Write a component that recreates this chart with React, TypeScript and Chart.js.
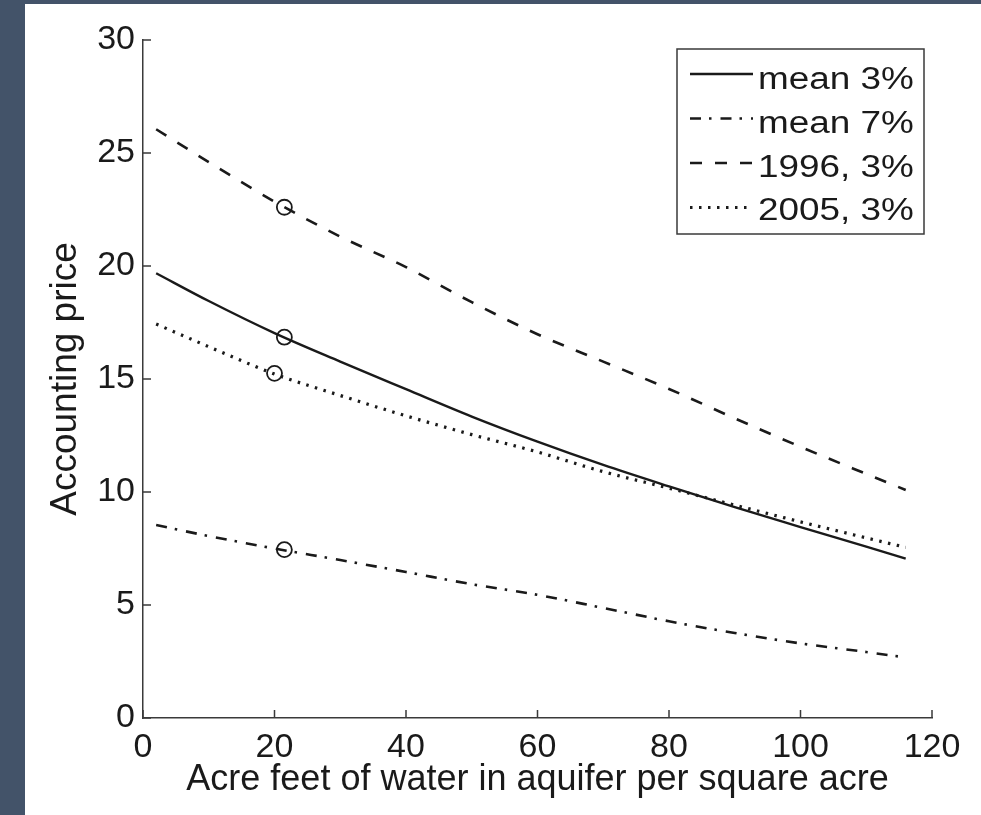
import React, { useEffect, useRef } from 'react';
import { Chart, registerables } from 'chart.js';

Chart.register(...registerables);

// ---- data ----
const xValues = [2, 10, 20, 30, 40, 50, 60, 70, 80, 90, 100, 110, 116];
const mean3 = [19.68, 18.45, 17.03, 15.77, 14.55, 13.34, 12.23, 11.2, 10.25, 9.33, 8.45, 7.58, 7.05];
const mean7 = [8.54, 8.05, 7.5, 6.99, 6.46, 5.92, 5.45, 4.87, 4.28, 3.76, 3.3, 2.92, 2.68];
const y1996 = [26.05, 24.6, 22.85, 21.3, 19.95, 18.4, 16.98, 15.77, 14.56, 13.26, 12.0, 10.8, 10.09];
const y2005 = [17.43, 16.43, 15.22, 14.27, 13.37, 12.54, 11.77, 10.9, 10.17, 9.42, 8.68, 7.97, 7.55];
const markerX = [21.5, 21.5, 21.5, 20];
const markerY = [16.85, 7.45, 22.6, 15.25];
const seriesLabels = ['mean 3%', 'mean 7%', '1996, 3%', '2005, 3%'];
const xTicks = [0, 20, 40, 60, 80, 100, 120];
const yTicks = [0, 5, 10, 15, 20, 25, 30];
const xTitle = 'Acre feet of water in aquifer per square acre';
const yTitle = 'Accounting price';

const FONT = "'Liberation Sans', Arial, Helvetica, sans-serif";
const INK = '#1a1a1a';
const AXIS = '#3a3a3a';

const toPoints = (ys: number[]) => xValues.map((x, i) => ({ x, y: ys[i] }));

const inwardTicks = {
  id: 'inwardTicks',
  afterDatasetsDraw(chart: any) {
    const { ctx, chartArea, scales } = chart;
    const x = scales.x;
    const y = scales.y;
    ctx.save();
    ctx.strokeStyle = AXIS;
    ctx.lineWidth = 1.5;
    ctx.beginPath();
    x.ticks.forEach((t: any) => {
      const px = x.getPixelForValue(t.value);
      ctx.moveTo(px, chartArea.bottom);
      ctx.lineTo(px, chartArea.bottom - 8);
    });
    y.ticks.forEach((t: any) => {
      const py = y.getPixelForValue(t.value);
      ctx.moveTo(chartArea.left, py);
      ctx.lineTo(chartArea.left + 8, py);
    });
    ctx.stroke();
    ctx.restore();
  },
};

const boxLegend = {
  id: 'boxLegend',
  afterDraw(chart: any) {
    const { ctx, chartArea } = chart;
    const w = 247;
    const h = 185;
    const right = chartArea.right - 8;
    const top = chartArea.top + 9;
    const left = right - w;
    ctx.save();
    ctx.fillStyle = '#ffffff';
    ctx.fillRect(left, top, w, h);
    ctx.strokeStyle = AXIS;
    ctx.lineWidth = 1.5;
    ctx.strokeRect(left, top, w, h);
    seriesLabels.forEach((label, i) => {
      const ds = chart.data.datasets[i];
      const ly = top + 25 + i * 44.5;
      ctx.save();
      ctx.setLineDash(ds.borderDash || []);
      ctx.lineWidth = ds.borderWidth;
      ctx.strokeStyle = ds.borderColor;
      ctx.beginPath();
      ctx.moveTo(left + 13, ly);
      ctx.lineTo(left + 76, ly);
      ctx.stroke();
      ctx.restore();
      ctx.save();
      ctx.translate(left + 81, top + 40 + i * 43.8);
      ctx.scale(1.19, 1);
      ctx.font = `31px ${FONT}`;
      ctx.fillStyle = INK;
      ctx.textBaseline = 'alphabetic';
      ctx.textAlign = 'left';
      ctx.fillText(label, 0, 0);
      ctx.restore();
    });
    ctx.restore();
  },
};

export default function App() {
  const ref = useRef<HTMLCanvasElement | null>(null);

  useEffect(() => {
    if (!ref.current) return;
    const lineBase = {
      borderColor: INK,
      backgroundColor: INK,
      pointRadius: 0,
      fill: false,
      tension: 0.4,
      cubicInterpolationMode: 'monotone' as const,
      borderCapStyle: 'butt' as const,
    };
    const chart = new Chart(ref.current, {
      type: 'line',
      data: {
        datasets: [
          { ...lineBase, label: seriesLabels[0], data: toPoints(mean3), borderWidth: 2.4, borderDash: [] },
          { ...lineBase, label: seriesLabels[1], data: toPoints(mean7), borderWidth: 2.6, borderDash: [11, 8, 2.5, 9] },
          { ...lineBase, label: seriesLabels[2], data: toPoints(y1996), borderWidth: 2.6, borderDash: [12, 13] },
          { ...lineBase, label: seriesLabels[3], data: toPoints(y2005), borderWidth: 3.2, borderDash: [2.5, 6.5] },
          {
            type: 'scatter' as any,
            label: 'markers',
            data: markerX.map((x, i) => ({ x, y: markerY[i] })),
            showLine: false,
            pointStyle: 'circle',
            pointRadius: 7.5,
            pointBorderWidth: 1.8,
            pointBorderColor: INK,
            pointBackgroundColor: 'rgba(0,0,0,0)',
            borderColor: INK,
            backgroundColor: 'rgba(0,0,0,0)',
          } as any,
        ],
      },
      options: {
        responsive: false,
        animation: false,
        devicePixelRatio: 1,
        events: [],
        layout: { padding: { top: 36, right: 49, left: 0, bottom: 0 } },
        plugins: {
          legend: { display: false },
          tooltip: { enabled: false },
          title: { display: false },
        },
        scales: {
          x: {
            type: 'linear',
            min: 0,
            max: 120,
            afterBuildTicks: (s: any) => {
              s.ticks = xTicks.map((v) => ({ value: v }));
            },
            afterFit: (s: any) => {
              s.height = 97;
            },
            grid: { display: false, drawTicks: false },
            border: { display: true, color: AXIS, width: 1.5 },
            ticks: {
              color: INK,
              padding: 9,
              maxRotation: 0,
              autoSkip: false,
              font: { family: FONT, size: 34 },
            },
            title: {
              display: true,
              text: xTitle,
              color: INK,
              padding: { top: 0, bottom: 13 },
              font: { family: FONT, size: 36 },
            },
          },
          y: {
            type: 'linear',
            min: 0,
            max: 30,
            afterBuildTicks: (s: any) => {
              s.ticks = yTicks.map((v) => ({ value: v }));
            },
            afterFit: (s: any) => {
              s.width = 118;
            },
            grid: { display: false, drawTicks: false },
            border: { display: true, color: AXIS, width: 1.5 },
            ticks: {
              color: INK,
              padding: 8,
              autoSkip: false,
              font: { family: FONT, size: 34 },
            },
            title: {
              display: true,
              text: yTitle,
              color: INK,
              padding: { top: 19, bottom: 0 },
              font: { family: FONT, size: 37 },
            },
          },
        },
      },
      plugins: [inwardTicks, boxLegend],
    });
    return () => chart.destroy();
  }, []);

  return (
    <div style={{ position: 'fixed', left: 0, top: 0, width: 981, height: 815, background: '#435369', overflow: 'hidden' }}>
      <div style={{ position: 'absolute', left: 25, top: 4, width: 956, height: 811, background: '#ffffff' }}>
        <canvas ref={ref} width={956} height={811} style={{ display: 'block' }} />
      </div>
    </div>
  );
}
